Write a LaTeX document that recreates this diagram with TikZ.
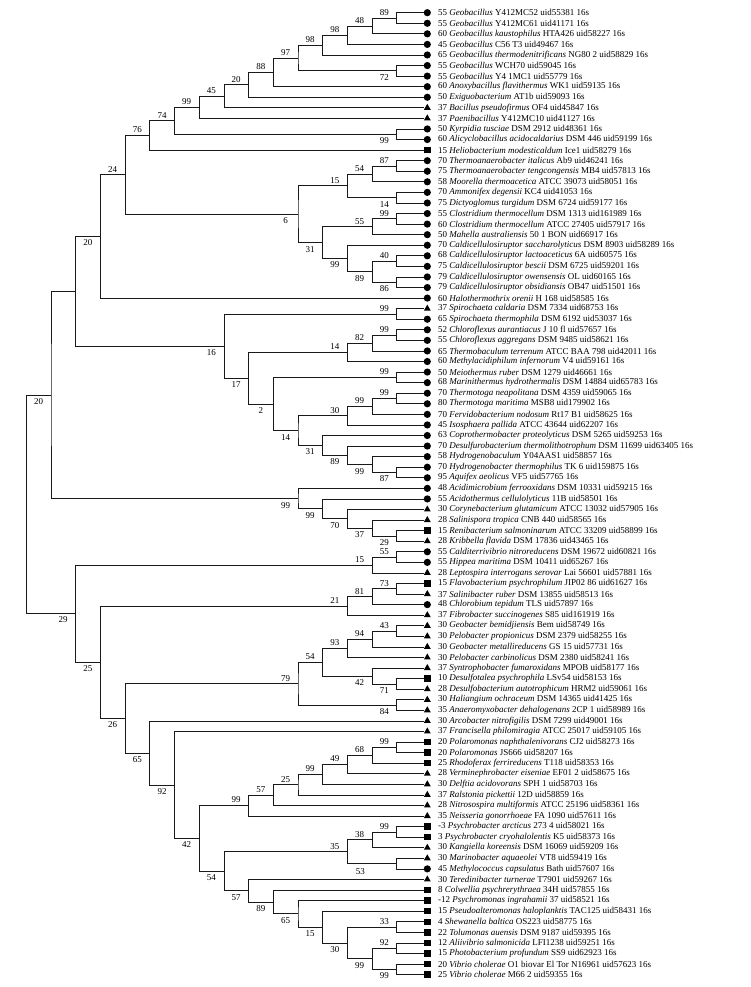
\documentclass[tikz,border=0pt]{standalone}
\usepackage{fontspec}
\setmainfont{Liberation Serif}
\usetikzlibrary{calc,shapes.geometric}
\tikzset{
  br/.style={line width=0.7pt, black!90},
  lbl/.style={anchor=west, inner sep=0pt, font=\fontsize{9}{10}\selectfont},
  bsl/.style={inner sep=0pt, font=\fontsize{9}{10}\selectfont},
  cir/.style={circle, fill=black, inner sep=0pt, minimum size=7.2pt},
  tri/.style={regular polygon, regular polygon sides=3, fill=black, inner sep=0pt, minimum size=8pt},
  sq/.style={rectangle, fill=black, inner sep=0pt, minimum size=6.4pt}
}
\newcommand\leafrow[3]{%
  \coordinate (L#1) at (423.5,{12.7+(#1-1)*10.57});
  \node[#2] (S#1) at (427.3,{12.7+(#1-1)*10.57}) {};
  \node[lbl] (T#1) at (438,{12.7+(#1-1)*10.57}) {#3};}
\newcommand\inode[4]{%
  \coordinate (X#1) at ({421.5-#2*24.7},0);
  \coordinate (M#1) at ($(#3)!0.5!(#4)$);
  \coordinate (#1) at (M#1 -| X#1);
  \draw[br] (#3) -| (#1) |- (#4);}
\newcommand\boot[3]{\node[bsl] (B#1) at ($(#1)+(-12.5,#3)$) {#2};}
\begin{document}
\begin{tikzpicture}[x=1pt,y=-1pt]
\useasboundingbox (0,0) rectangle (750,987);
\fill[white] (0,0) rectangle (750,987);
\leafrow{1}{cir}{55 \textit{Geobacillus} Y412MC52 uid55381 16s}
\leafrow{2}{cir}{55 \textit{Geobacillus} Y412MC61 uid41171 16s}
\leafrow{3}{cir}{60 \textit{Geobacillus kaustophilus} HTA426 uid58227 16s}
\leafrow{4}{cir}{45 \textit{Geobacillus} C56 T3 uid49467 16s}
\leafrow{5}{cir}{65 \textit{Geobacillus thermodenitrificans} NG80 2 uid58829 16s}
\leafrow{6}{cir}{55 \textit{Geobacillus} WCH70 uid59045 16s}
\leafrow{7}{cir}{55 \textit{Geobacillus} Y4 1MC1 uid55779 16s}
\leafrow{8}{cir}{60 \textit{Anoxybacillus flavithermus} WK1 uid59135 16s}
\leafrow{9}{cir}{50 \textit{Exiguobacterium} AT1b uid59093 16s}
\leafrow{10}{tri}{37 \textit{Bacillus pseudofirmus} OF4 uid45847 16s}
\leafrow{11}{tri}{37 \textit{Paenibacillus} Y412MC10 uid41127 16s}
\leafrow{12}{cir}{50 \textit{Kyrpidia tusciae} DSM 2912 uid48361 16s}
\leafrow{13}{cir}{60 \textit{Alicyclobacillus acidocaldarius} DSM 446 uid59199 16s}
\leafrow{14}{sq}{15 \textit{Heliobacterium modesticaldum} Ice1 uid58279 16s}
\leafrow{15}{cir}{70 \textit{Thermoanaerobacter italicus} Ab9 uid46241 16s}
\leafrow{16}{cir}{75 \textit{Thermoanaerobacter tengcongensis} MB4 uid57813 16s}
\leafrow{17}{cir}{58 \textit{Moorella thermoacetica} ATCC 39073 uid58051 16s}
\leafrow{18}{cir}{70 \textit{Ammonifex degensii} KC4 uid41053 16s}
\leafrow{19}{cir}{75 \textit{Dictyoglomus turgidum} DSM 6724 uid59177 16s}
\leafrow{20}{cir}{55 \textit{Clostridium thermocellum} DSM 1313 uid161989 16s}
\leafrow{21}{cir}{60 \textit{Clostridium thermocellum} ATCC 27405 uid57917 16s}
\leafrow{22}{cir}{50 \textit{Mahella australiensis} 50 1 BON uid66917 16s}
\leafrow{23}{cir}{70 \textit{Caldicellulosiruptor saccharolyticus} DSM 8903 uid58289 16s}
\leafrow{24}{cir}{68 \textit{Caldicellulosiruptor lactoaceticus} 6A uid60575 16s}
\leafrow{25}{cir}{75 \textit{Caldicellulosiruptor bescii} DSM 6725 uid59201 16s}
\leafrow{26}{cir}{79 \textit{Caldicellulosiruptor owensensis} OL uid60165 16s}
\leafrow{27}{cir}{79 \textit{Caldicellulosiruptor obsidiansis} OB47 uid51501 16s}
\leafrow{28}{cir}{60 \textit{Halothermothrix orenii} H 168 uid58585 16s}
\leafrow{29}{tri}{37 \textit{Spirochaeta caldaria} DSM 7334 uid68753 16s}
\leafrow{30}{cir}{65 \textit{Spirochaeta thermophila} DSM 6192 uid53037 16s}
\leafrow{31}{cir}{52 \textit{Chloroflexus aurantiacus} J 10 fl uid57657 16s}
\leafrow{32}{cir}{55 \textit{Chloroflexus aggregans} DSM 9485 uid58621 16s}
\leafrow{33}{cir}{65 \textit{Thermobaculum terrenum} ATCC BAA 798 uid42011 16s}
\leafrow{34}{cir}{60 \textit{Methylacidiphilum infernorum} V4 uid59161 16s}
\leafrow{35}{cir}{50 \textit{Meiothermus ruber} DSM 1279 uid46661 16s}
\leafrow{36}{cir}{68 \textit{Marinithermus hydrothermalis} DSM 14884 uid65783 16s}
\leafrow{37}{cir}{70 \textit{Thermotoga neapolitana} DSM 4359 uid59065 16s}
\leafrow{38}{cir}{80 \textit{Thermotoga maritima} MSB8 uid179902 16s}
\leafrow{39}{cir}{70 \textit{Fervidobacterium nodosum} Rt17 B1 uid58625 16s}
\leafrow{40}{cir}{45 \textit{Isosphaera pallida} ATCC 43644 uid62207 16s}
\leafrow{41}{cir}{63 \textit{Coprothermobacter proteolyticus} DSM 5265 uid59253 16s}
\leafrow{42}{cir}{70 \textit{Desulfurobacterium thermolithotrophum} DSM 11699 uid63405 16s}
\leafrow{43}{cir}{58 \textit{Hydrogenobaculum} Y04AAS1 uid58857 16s}
\leafrow{44}{cir}{70 \textit{Hydrogenobacter thermophilus} TK 6 uid159875 16s}
\leafrow{45}{cir}{95 \textit{Aquifex aeolicus} VF5 uid57765 16s}
\leafrow{46}{cir}{48 \textit{Acidimicrobium ferrooxidans} DSM 10331 uid59215 16s}
\leafrow{47}{cir}{55 \textit{Acidothermus cellulolyticus} 11B uid58501 16s}
\leafrow{48}{tri}{30 \textit{Corynebacterium glutamicum} ATCC 13032 uid57905 16s}
\leafrow{49}{tri}{28 \textit{Salinispora tropica} CNB 440 uid58565 16s}
\leafrow{50}{sq}{15 \textit{Renibacterium salmoninarum} ATCC 33209 uid58899 16s}
\leafrow{51}{tri}{28 \textit{Kribbella flavida} DSM 17836 uid43465 16s}
\leafrow{52}{cir}{55 \textit{Calditerrivibrio nitroreducens} DSM 19672 uid60821 16s}
\leafrow{53}{cir}{55 \textit{Hippea maritima} DSM 10411 uid65267 16s}
\leafrow{54}{tri}{28 \textit{Leptospira interrogans serovar} Lai 56601 uid57881 16s}
\leafrow{55}{sq}{15 \textit{Flavobacterium psychrophilum} JIP02 86 uid61627 16s}
\leafrow{56}{tri}{37 \textit{Salinibacter ruber} DSM 13855 uid58513 16s}
\leafrow{57}{cir}{48 \textit{Chlorobium tepidum} TLS uid57897 16s}
\leafrow{58}{tri}{37 \textit{Fibrobacter succinogenes} S85 uid161919 16s}
\leafrow{59}{tri}{30 \textit{Geobacter bemidjiensis} Bem uid58749 16s}
\leafrow{60}{tri}{30 \textit{Pelobacter propionicus} DSM 2379 uid58255 16s}
\leafrow{61}{tri}{30 \textit{Geobacter metallireducens} GS 15 uid57731 16s}
\leafrow{62}{tri}{30 \textit{Pelobacter carbinolicus} DSM 2380 uid58241 16s}
\leafrow{63}{tri}{37 \textit{Syntrophobacter fumaroxidans} MPOB uid58177 16s}
\leafrow{64}{sq}{10 \textit{Desulfotalea psychrophila} LSv54 uid58153 16s}
\leafrow{65}{tri}{28 \textit{Desulfobacterium autotrophicum} HRM2 uid59061 16s}
\leafrow{66}{tri}{30 \textit{Haliangium ochraceum} DSM 14365 uid41425 16s}
\leafrow{67}{tri}{35 \textit{Anaeromyxobacter dehalogenans} 2CP 1 uid58989 16s}
\leafrow{68}{tri}{30 \textit{Arcobacter nitrofigilis} DSM 7299 uid49001 16s}
\leafrow{69}{tri}{37 \textit{Francisella philomiragia} ATCC 25017 uid59105 16s}
\leafrow{70}{sq}{20 \textit{Polaromonas naphthalenivorans} CJ2 uid58273 16s}
\leafrow{71}{sq}{20 \textit{Polaromonas} JS666 uid58207 16s}
\leafrow{72}{sq}{25 \textit{Rhodoferax ferrireducens} T118 uid58353 16s}
\leafrow{73}{tri}{28 \textit{Verminephrobacter eiseniae} EF01 2 uid58675 16s}
\leafrow{74}{tri}{30 \textit{Delftia acidovorans} SPH 1 uid58703 16s}
\leafrow{75}{tri}{37 \textit{Ralstonia pickettii} 12D uid58859 16s}
\leafrow{76}{tri}{28 \textit{Nitrosospira multiformis} ATCC 25196 uid58361 16s}
\leafrow{77}{tri}{35 \textit{Neisseria gonorrhoeae} FA 1090 uid57611 16s}
\leafrow{78}{sq}{-3 \textit{Psychrobacter arcticus} 273 4 uid58021 16s}
\leafrow{79}{sq}{3 \textit{Psychrobacter cryohalolentis} K5 uid58373 16s}
\leafrow{80}{tri}{30 \textit{Kangiella koreensis} DSM 16069 uid59209 16s}
\leafrow{81}{tri}{30 \textit{Marinobacter aquaeolei} VT8 uid59419 16s}
\leafrow{82}{cir}{45 \textit{Methylococcus capsulatus} Bath uid57607 16s}
\leafrow{83}{tri}{30 \textit{Teredinibacter turnerae} T7901 uid59267 16s}
\leafrow{84}{sq}{8 \textit{Colwellia psychrerythraea} 34H uid57855 16s}
\leafrow{85}{sq}{-12 \textit{Psychromonas ingrahamii} 37 uid58521 16s}
\leafrow{86}{sq}{15 \textit{Pseudoalteromonas haloplanktis} TAC125 uid58431 16s}
\leafrow{87}{sq}{4 \textit{Shewanella baltica} OS223 uid58775 16s}
\leafrow{88}{sq}{22 \textit{Tolumonas auensis} DSM 9187 uid59395 16s}
\leafrow{89}{sq}{12 \textit{Aliivibrio salmonicida} LFI1238 uid59251 16s}
\leafrow{90}{sq}{15 \textit{Photobacterium profundum} SS9 uid62923 16s}
\leafrow{91}{sq}{20 \textit{Vibrio cholerae} O1 biovar El Tor N16961 uid57623 16s}
\leafrow{92}{sq}{25 \textit{Vibrio cholerae} M66 2 uid59355 16s}
% --- Firmicutes clade
\inode{a1}{1}{L1}{L2}\boot{a1}{89}{-5.5}
\inode{a2}{2}{a1}{L3}\boot{a2}{48}{-5.5}
\inode{a3}{3}{a2}{L4}\boot{a3}{98}{-5.5}
\inode{a4}{4}{a3}{L5}\boot{a4}{98}{-5.5}
\inode{a5}{1}{L6}{L7}\boot{a5}{72}{6.5}
\inode{a6}{5}{a4}{a5}\boot{a6}{97}{-5.5}
\inode{a7}{6}{a6}{L8}\boot{a7}{88}{-5.5}
\inode{a8}{7}{a7}{L9}\boot{a8}{20}{-5.5}
\inode{a9}{8}{a8}{L10}\boot{a9}{45}{-5.5}
\inode{a10}{9}{a9}{L11}\boot{a10}{99}{-5.5}
\inode{a11}{1}{L12}{L13}\boot{a11}{99}{6.5}
\inode{a12}{10}{a10}{a11}\boot{a12}{74}{-5.5}
\inode{a13}{11}{a12}{L14}\boot{a13}{76}{-5.5}
\inode{b1}{1}{L15}{L16}\boot{b1}{87}{-5.5}
\inode{b2}{2}{b1}{L17}\boot{b2}{54}{-5.5}
\inode{b3}{1}{L18}{L19}\boot{b3}{14}{6.5}
\inode{b4}{3}{b2}{b3}\boot{b4}{15}{-5.5}
\inode{b5}{1}{L20}{L21}\boot{b5}{99}{-5.5}
\inode{b6}{2}{b5}{L22}\boot{b6}{55}{-5.5}
\inode{b7}{1}{L24}{L25}\boot{b7}{40}{-5.5}
\inode{b8}{1}{L26}{L27}\boot{b8}{86}{6.5}
\inode{b9}{2}{b7}{b8}\boot{b9}{89}{6.5}
\inode{b10}{3}{L23}{b9}\boot{b10}{99}{6.5}
\inode{b11}{4}{b6}{b10}\boot{b11}{31}{6.5}
\inode{b12}{5}{b4}{b11}\boot{b12}{6}{6.5}
\inode{a14}{12}{a13}{b12}\boot{a14}{24}{-5.5}
\inode{a15}{13}{a14}{L28}\boot{a15}{20}{6.5}
% --- second clade
\inode{c1}{1}{L29}{L30}\boot{c1}{99}{-5.5}
\inode{c2}{1}{L31}{L32}\boot{c2}{99}{-5.5}
\inode{c3}{2}{c2}{L33}\boot{c3}{82}{-5.5}
\inode{c4}{3}{c3}{L34}\boot{c4}{14}{-5.5}
\inode{c5}{1}{L35}{L36}\boot{c5}{99}{-5.5}
\inode{c6}{1}{L37}{L38}\boot{c6}{99}{-5.5}
\inode{c7}{2}{c6}{L39}\boot{c7}{99}{-5.5}
\inode{c8}{3}{c7}{L40}\boot{c8}{30}{-5.5}
\inode{c9}{1}{L44}{L45}\boot{c9}{87}{6.5}
\inode{c10}{2}{L43}{c9}\boot{c10}{99}{6.5}
\inode{c11}{3}{L42}{c10}\boot{c11}{89}{6.5}
\inode{c12}{4}{L41}{c11}\boot{c12}{31}{6.5}
\inode{c13}{5}{c8}{c12}\boot{c13}{14}{6.5}
\inode{c14}{6}{c5}{c13}\boot{c14}{2}{6.5}
\inode{c15}{7}{c4}{c14}\boot{c15}{17}{6.5}
\inode{c16}{8}{c1}{c15}\boot{c16}{16}{6.5}
\inode{a16}{14}{a15}{c16}
% --- Actinobacteria
\inode{d1}{1}{L50}{L51}\boot{d1}{29}{6.5}
\inode{d2}{2}{L49}{d1}\boot{d2}{37}{6.5}
\inode{d3}{3}{L48}{d2}\boot{d3}{70}{6.5}
\inode{d4}{4}{L47}{d3}\boot{d4}{99}{6.5}
\inode{d5}{5}{L46}{d4}\boot{d5}{99}{6.5}
\inode{a17}{15}{a16}{d5}\boot{a17}{20}{6.5}
% --- lower clades
\inode{e1}{1}{L52}{L53}\boot{e1}{55}{-5.5}
\inode{e2}{2}{e1}{L54}\boot{e2}{15}{-5.5}
\inode{f1}{1}{L55}{L56}\boot{f1}{73}{-5.5}
\inode{f2}{2}{f1}{L57}\boot{f2}{81}{-5.5}
\inode{f3}{3}{f2}{L58}\boot{f3}{21}{-5.5}
\inode{g1}{1}{L59}{L60}\boot{g1}{43}{-5.5}
\inode{g2}{2}{g1}{L61}\boot{g2}{94}{-5.5}
\inode{g3}{3}{g2}{L62}\boot{g3}{93}{-5.5}
\inode{g4}{1}{L64}{L65}\boot{g4}{71}{6.5}
\inode{g5}{2}{L63}{g4}\boot{g5}{42}{6.5}
\inode{g6}{4}{g3}{g5}\boot{g6}{54}{-5.5}
\inode{g7}{1}{L66}{L67}\boot{g7}{84}{6.5}
\inode{g8}{5}{g6}{g7}\boot{g8}{79}{-5.5}
\inode{h1}{1}{L70}{L71}\boot{h1}{99}{-5.5}
\inode{h2}{2}{h1}{L72}\boot{h2}{68}{-5.5}
\inode{h3}{3}{h2}{L73}\boot{h3}{49}{-5.5}
\inode{h4}{4}{h3}{L74}\boot{h4}{99}{-5.5}
\inode{h5}{5}{h4}{L75}\boot{h5}{25}{-5.5}
\inode{h6}{6}{h5}{L76}\boot{h6}{57}{-5.5}
\inode{h7}{7}{h6}{L77}\boot{h7}{99}{-5.5}
\inode{i1}{1}{L78}{L79}\boot{i1}{99}{-5.5}
\inode{i2}{2}{i1}{L80}\boot{i2}{38}{-5.5}
\inode{i3}{1}{L81}{L82}
\node[bsl] (Bi3) at ($(i3)+(-36.5,8)$) {53};
\inode{i4}{3}{i2}{i3}\boot{i4}{35}{-5.5}
\inode{j1}{1}{L87}{L88}\boot{j1}{33}{-5.5}
\inode{j2}{1}{L89}{L90}\boot{j2}{92}{-5.5}
\inode{j3}{1}{L91}{L92}\boot{j3}{99}{6.5}
\inode{j4}{2}{j2}{j3}\boot{j4}{99}{6.5}
\inode{j5}{3}{j1}{j4}\boot{j5}{30}{6.5}
\inode{j6}{4}{L86}{j5}\boot{j6}{15}{6.5}
\inode{j7}{5}{L85}{j6}\boot{j7}{65}{6.5}
\inode{j8}{6}{L84}{j7}\boot{j8}{89}{6.5}
\inode{j9}{7}{L83}{j8}\boot{j9}{57}{6.5}
\inode{j10}{8}{i4}{j9}\boot{j10}{54}{6.5}
\inode{j11}{9}{h7}{j10}\boot{j11}{42}{6.5}
\inode{k1}{10}{L69}{j11}\boot{k1}{92}{6.5}
\inode{k2}{11}{L68}{k1}\boot{k2}{65}{6.5}
\inode{k3}{12}{g8}{k2}\boot{k3}{26}{6.5}
\inode{k4}{13}{f3}{k3}\boot{k4}{25}{6.5}
\inode{k5}{14}{e2}{k4}\boot{k5}{29}{6.5}
\inode{r}{16}{a17}{k5}
\end{tikzpicture}
\end{document}
